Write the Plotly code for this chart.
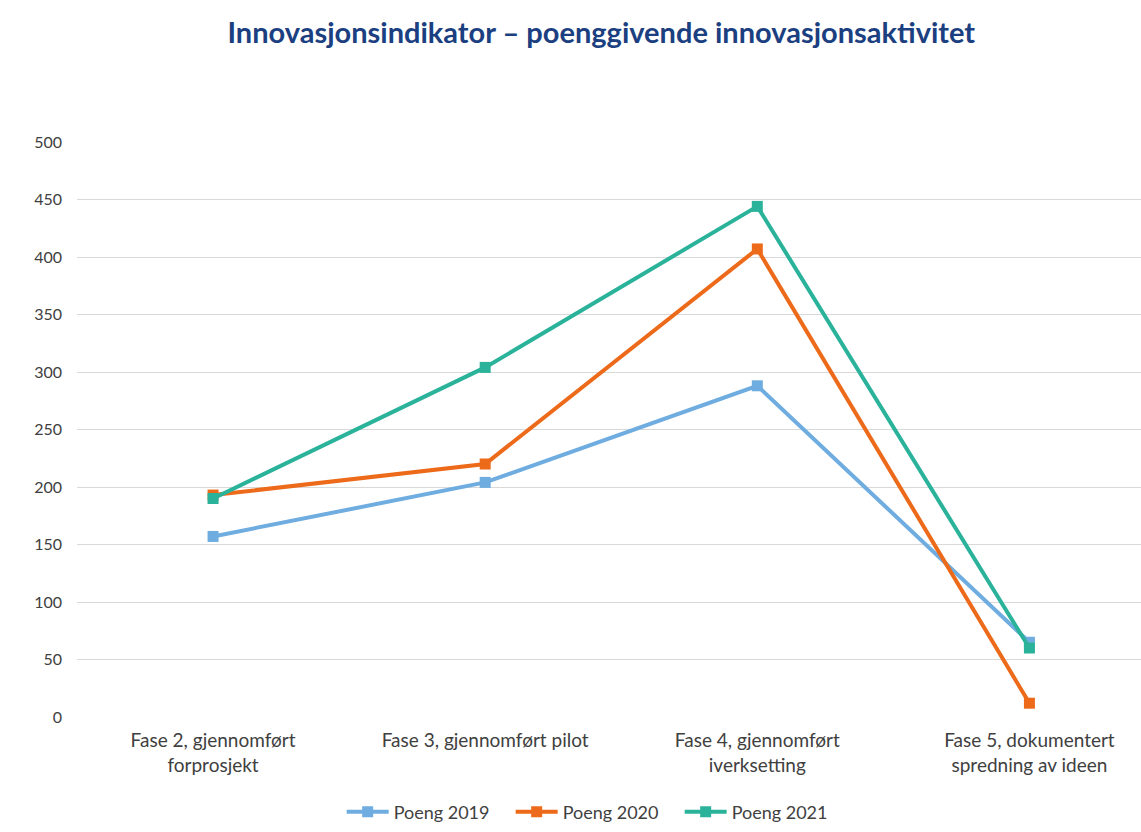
import plotly.graph_objects as go

# Phases on the x axis (line-broken as displayed)
phases = [
    "Fase 2, gjennomført<br>forprosjekt",
    "Fase 3, gjennomført pilot",
    "Fase 4, gjennomført<br>iverksetting",
    "Fase 5, dokumentert<br>spredning av ideen",
]

# Points per year
poeng_2019 = [157, 204, 288, 65]
poeng_2020 = [193, 220, 407, 12]
poeng_2021 = [190, 304, 444, 60]

y_ticks = [0, 50, 100, 150, 200, 250, 300, 350, 400, 450, 500]

series = [
    ("Poeng 2019", poeng_2019, "#6FADE0"),
    ("Poeng 2020", poeng_2020, "#EC6A1A"),
    ("Poeng 2021", poeng_2021, "#2AB39A"),
]

fig = go.Figure()
for name, vals, color in series:
    fig.add_trace(go.Scatter(
        x=list(range(len(phases))),
        y=vals,
        name=name,
        mode="lines+markers",
        line=dict(color=color, width=4),
        marker=dict(symbol="square", size=11, color=color),
    ))

fig.update_layout(
    width=1141,
    height=832,
    paper_bgcolor="white",
    plot_bgcolor="white",
    margin=dict(l=77, r=0, t=142, b=115, autoexpand=False),
    font=dict(family="Lato, 'Open Sans', sans-serif", color="#404040"),
    title=dict(
        text="<b>Innovasjonsindikator – poenggivende innovasjonsaktivitet</b>",
        x=0.527, xanchor="center",
        y=0.96, yanchor="middle",
        font=dict(size=29, color="#1B3F80", family="Lato, sans-serif"),
    ),
    showlegend=True,
    legend=dict(
        orientation="h",
        x=0.487, xanchor="center",
        y=-0.133, yanchor="top",
        font=dict(size=18, color="#404040"),
        itemwidth=42,
        entrywidth=112,
        tracegroupgap=0,
    ),
    xaxis=dict(
        tickmode="array",
        tickvals=list(range(len(phases))),
        ticktext=phases,
        range=[-0.5, 3.41],
        showgrid=False,
        zeroline=False,
        showline=False,
        ticks="",
        automargin=False,
        tickfont=dict(size=19, color="#404040"),
        ticklabelstandoff=10,
    ),
    yaxis=dict(
        range=[0, 500],
        tickvals=y_ticks,
        showgrid=True,
        gridcolor="#D9D9D9",
        gridwidth=1,
        zeroline=False,
        showline=False,
        ticks="",
        automargin=False,
        tickfont=dict(size=16, color="#404040"),
        ticklabelstandoff=14,
    ),
)

fig.write_html("out.html")
